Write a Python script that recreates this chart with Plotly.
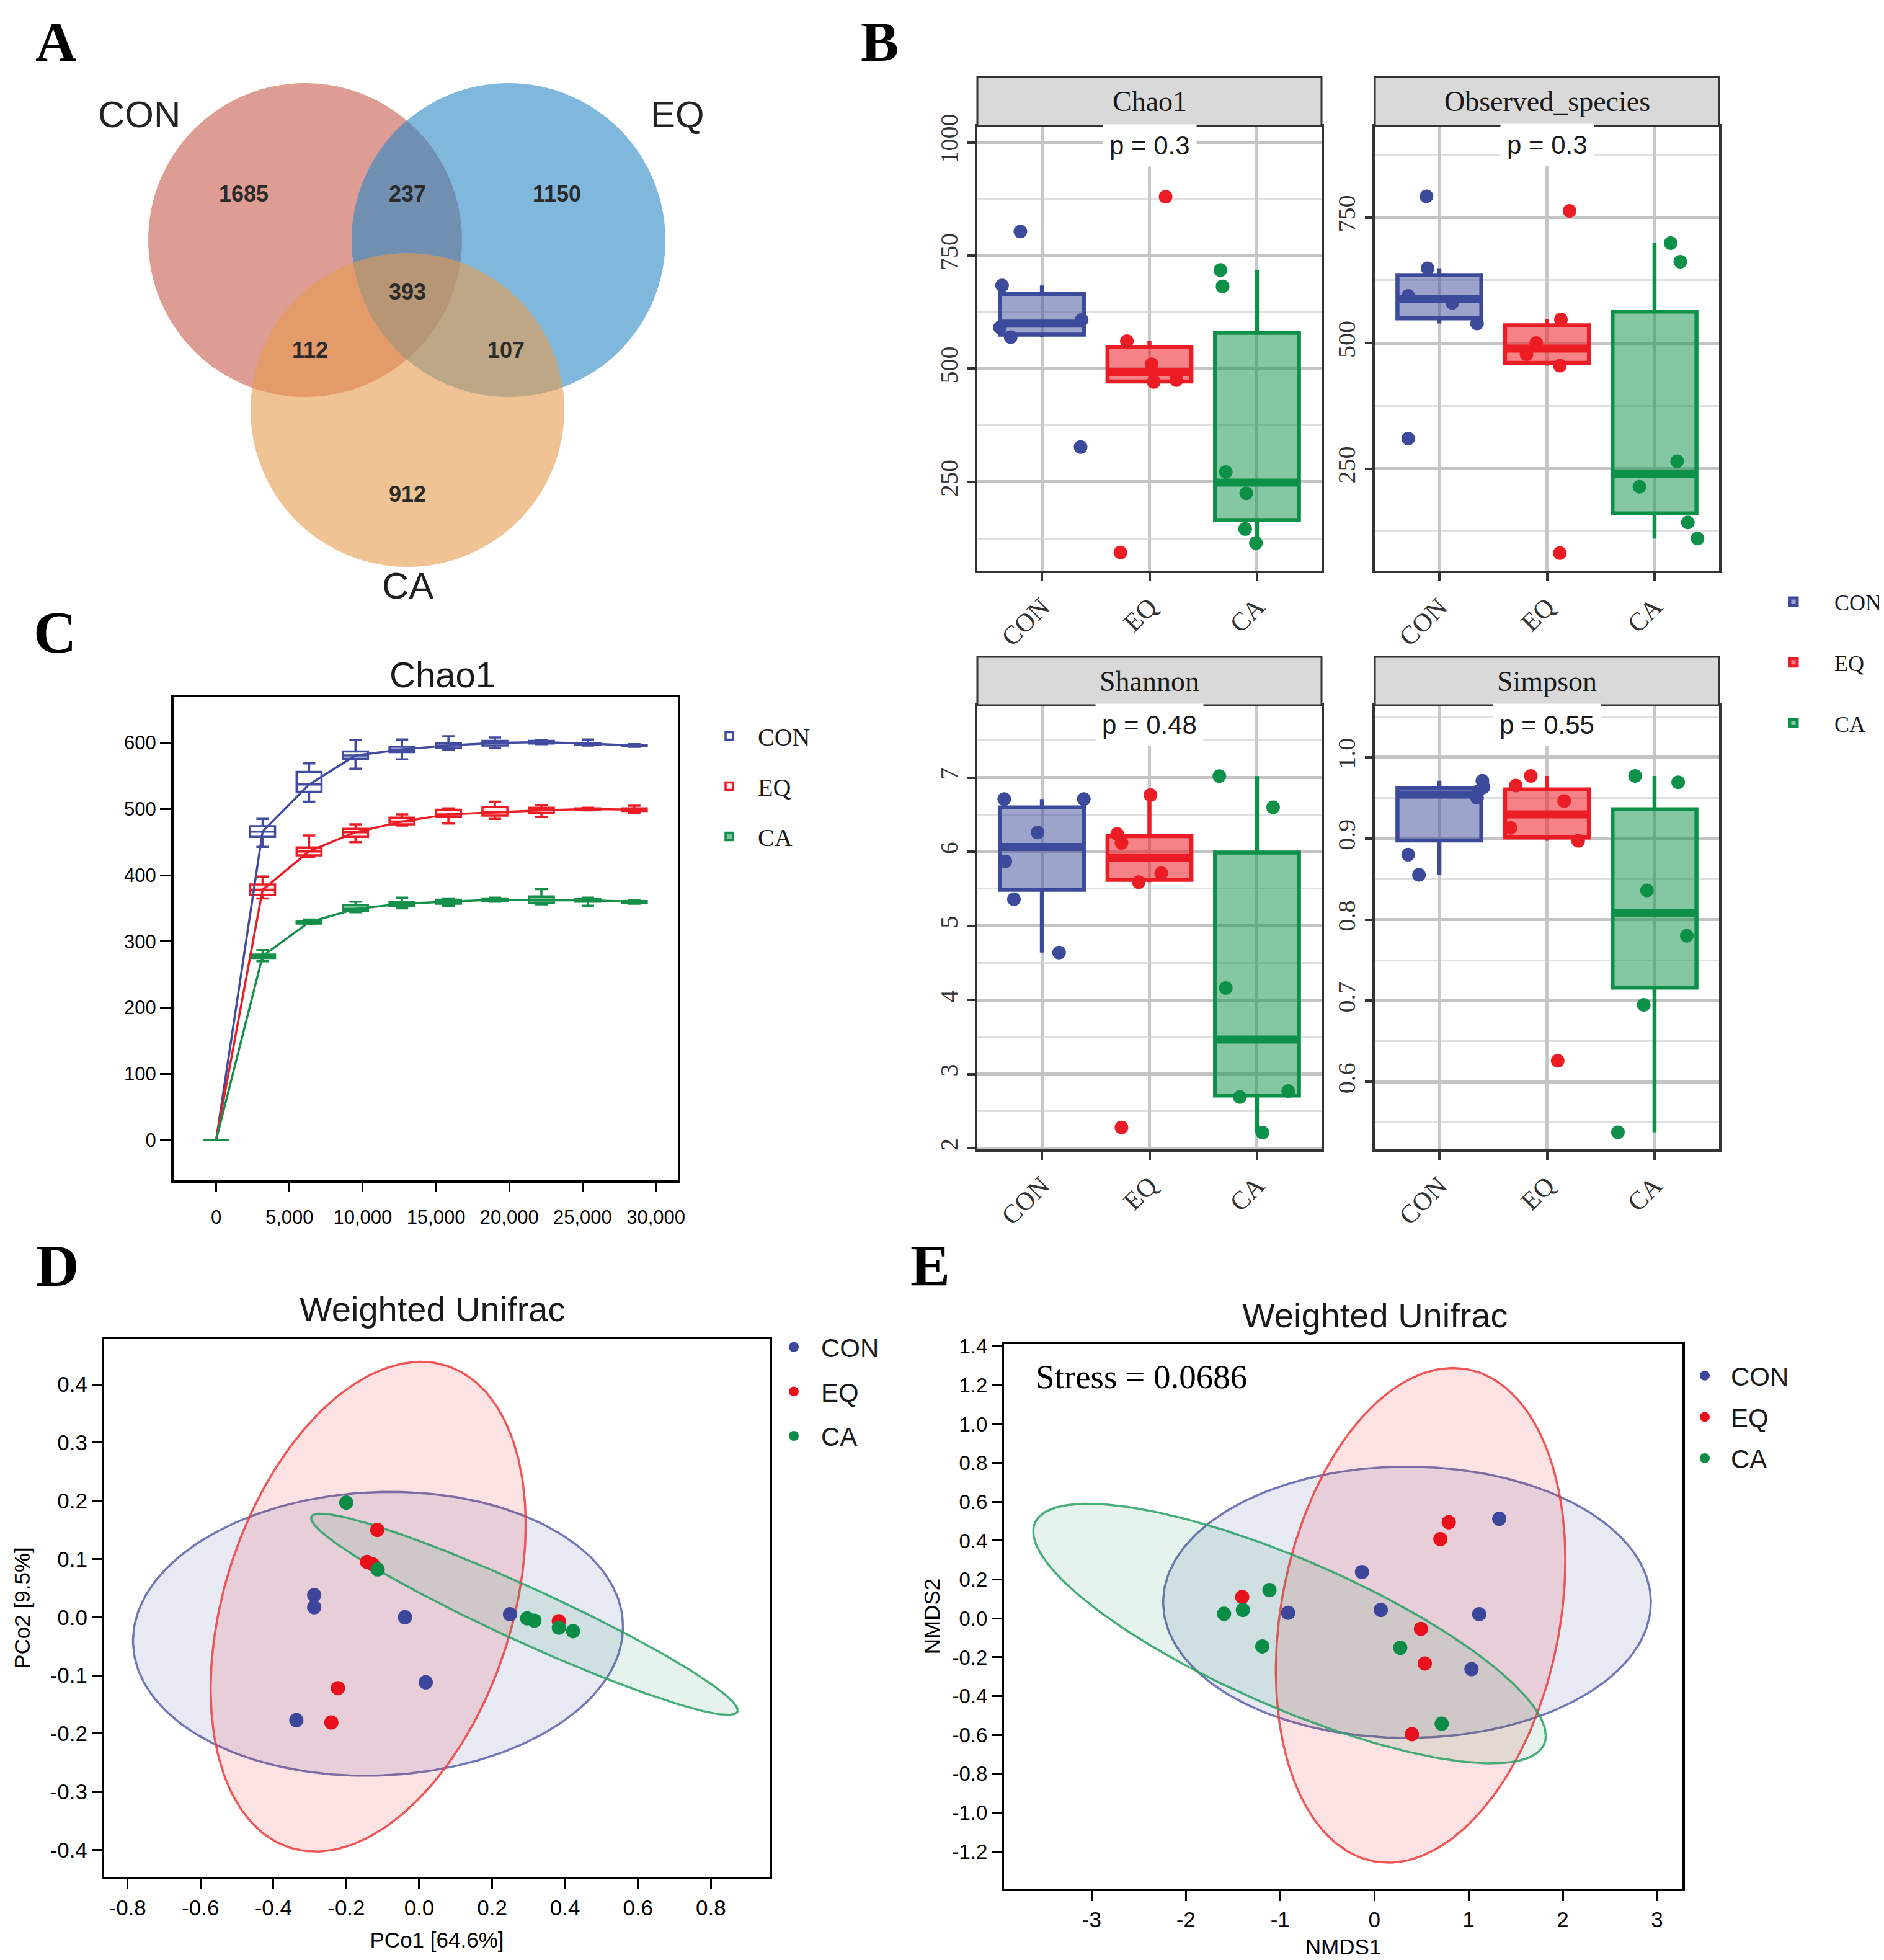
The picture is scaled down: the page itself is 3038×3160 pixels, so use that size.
import numpy as np
import plotly.graph_objects as go

W, H = 3038, 3160
OFF = 8  # the page body offsets the figure by 8 px


def px(x):
    return (x - OFF) / W


def py(y):
    return 1 - (y - OFF) / H


SERIF = "Liberation Serif, Times New Roman, serif"
SANS = "Liberation Sans, Arial, sans-serif"
NARROW = "Liberation Sans Narrow, Liberation Sans, Arial Narrow, sans-serif"

GROUPS = ["CON", "EQ", "CA"]

# ---------------- Panel A: Venn ----------------
VENN_SETS = ["CON", "EQ", "CA"]
VENN_REGIONS = ["CON", "CON&EQ", "EQ", "CON&EQ&CA", "CON&CA", "EQ&CA", "CA"]
VENN_COUNTS = [1685, 237, 1150, 393, 112, 107, 912]

# ---------------- Panel B: alpha diversity ----------------
B_METRICS = ["Chao1", "Observed_species", "Shannon", "Simpson"]
B_PVALUES = ["p = 0.3", "p = 0.3", "p = 0.48", "p = 0.55"]
CHAO1 = [[803, 684, 591, 570, 608, 327],
         [880, 561, 510, 471, 475, 94],
         [718, 682, 272, 225, 146, 115]]
CHAO1_JIT = [[-0.20, -0.37, -0.39, -0.29, 0.37, 0.36],
             [0.15, -0.21, 0.02, 0.04, 0.25, -0.27],
             [-0.34, -0.32, -0.29, -0.10, -0.11, -0.01]]
OBS = [[792, 649, 594, 580, 539, 310],
       [763, 547, 500, 478, 455, 82],
       [699, 662, 265, 214, 143, 111]]
OBS_JIT = [[-0.12, -0.11, -0.29, 0.12, 0.35, -0.29],
           [0.21, 0.13, -0.10, -0.19, 0.12, 0.12],
           [0.15, 0.24, 0.21, -0.14, 0.31, 0.40]]
SHANNON = [[6.71, 6.71, 6.26, 5.87, 5.36, 4.64],
           [6.765, 6.24, 6.12, 5.71, 5.59, 2.28],
           [7.02, 6.60, 4.16, 2.77, 2.69, 2.21]]
SHANNON_JIT = [[-0.35, 0.39, -0.04, -0.34, -0.26, 0.16],
               [0.01, -0.30, -0.26, 0.11, -0.10, -0.26],
               [-0.35, 0.15, -0.29, 0.29, -0.16, 0.05]]
SIMPSON = [[0.971, 0.963, 0.958, 0.950, 0.880, 0.855],
           [0.977, 0.965, 0.946, 0.913, 0.897, 0.626],
           [0.977, 0.969, 0.836, 0.780, 0.695, 0.538]]
SIMPSON_JIT = [[0.40, 0.41, 0.36, 0.35, -0.29, -0.19],
               [-0.15, -0.29, 0.16, -0.34, 0.29, 0.10],
               [-0.18, 0.22, -0.07, 0.30, -0.10, -0.34]]

# ---------------- Panel C: rarefaction (Chao1) ----------------
DEPTHS = [0, 3170, 6340, 9510, 12680, 15850, 19020, 22190, 25360, 28530]
C_MED = [[0, 466, 537, 581, 590, 596, 600, 601, 599, 596],
         [0, 378, 436, 465, 481, 492, 495, 498, 500, 499],
         [0, 278, 329, 349, 357, 360, 363, 362, 362, 360]]
C_Q1 = [[0, 458, 526, 576, 586, 592, 596, 599, 597, 595],
        [0, 370, 430, 458, 477, 488, 490, 494, 499, 497],
        [0, 275, 327, 346, 354, 357, 361, 358, 360, 358]]
C_Q3 = [[0, 474, 556, 587, 594, 600, 603, 603, 600, 597],
        [0, 386, 442, 470, 487, 499, 503, 502, 501, 501],
        [0, 280, 331, 355, 360, 363, 365, 368, 364, 361]]
C_LO = [[0, 443, 511, 561, 575, 590, 592, 598, 596, 594],
        [0, 365, 428, 450, 475, 478, 485, 488, 498, 494],
        [0, 270, 326, 344, 350, 354, 360, 356, 354, 357]]
C_HI = [[0, 485, 569, 604, 605, 610, 608, 604, 605, 598],
        [0, 398, 460, 477, 492, 501, 511, 506, 502, 505],
        [0, 287, 333, 360, 366, 365, 366, 379, 366, 362]]

# ---------------- Panel D: PCoA ----------------
PCO1 = [[-0.288, -0.288, -0.039, 0.249, 0.018, -0.337],
        [-0.115, -0.143, -0.128, 0.383, -0.223, -0.241],
        [-0.200, -0.114, 0.296, 0.316, 0.383, 0.422]]
PCO2 = [[0.038, 0.017, 0.000, 0.005, -0.112, -0.177],
        [0.150, 0.095, 0.091, -0.007, -0.122, -0.181],
        [0.197, 0.082, -0.002, -0.006, -0.018, -0.024]]
D_XTICKVALS = [-0.8, -0.6, -0.4, -0.2, 0.0, 0.2, 0.4, 0.6, 0.8]
D_XTICKTEXT = ["-0.8", "-0.6", "-0.4", "-0.2", "0.0", "0.2", "0.4", "0.6", "0.8"]
D_YTICKVALS = [-0.4, -0.3, -0.2, -0.1, 0.0, 0.1, 0.2, 0.3, 0.4]
D_YTICKTEXT = ["-0.4", "-0.3", "-0.2", "-0.1", "0.0", "0.1", "0.2", "0.3", "0.4"]
# confidence ellipses: centre, half extents, correlation
D_ELL_CX = [-0.113, -0.140, 0.2885]
D_ELL_CY = [-0.0286, 0.018, 0.005]
D_ELL_SX = [0.672, 0.432, 0.585]
D_ELL_SY = [0.244, 0.421, 0.173]
D_ELL_R = [0.05, 0.335, -0.955]

# ---------------- Panel E: NMDS ----------------
NMDS1 = [[1.326, -0.131, -0.914, 0.069, 1.113, 1.031],
         [0.790, 0.701, -1.402, 0.495, 0.536, 0.399],
         [-1.113, -1.395, -1.595, -1.189, 0.275, 0.715]]
NMDS2 = [[0.513, 0.239, 0.029, 0.044, 0.022, -0.261],
         [0.495, 0.408, 0.110, -0.054, -0.232, -0.596],
         [0.146, 0.044, 0.024, -0.144, -0.151, -0.542]]
E_XTICKVALS = [-3, -2, -1, 0, 1, 2, 3]
E_XTICKTEXT = ["-3", "-2", "-1", "0", "1", "2", "3"]
E_YTICKVALS = [-1.2, -1.0, -0.8, -0.6, -0.4, -0.2, 0.0, 0.2, 0.4, 0.6, 0.8, 1.0, 1.2, 1.4]
E_YTICKTEXT = ["-1.2", "-1.0", "-0.8", "-0.6", "-0.4", "-0.2", "0.0",
               "0.2", "0.4", "0.6", "0.8", "1.0", "1.2", "1.4"]
E_ELL_CX = [0.347, 0.491, -0.90]
E_ELL_CY = [0.083, 0.016, -0.078]
E_ELL_SX = [2.588, 1.536, 2.72]
E_ELL_SY = [0.698, 1.273, 0.668]
E_ELL_R = [0.0, 0.224, -0.787]
STRESS = 0.0686

# ---------------- colours ----------------
B_LINE = ["#3b4a9a", "#ec1c24", "#0d9048"]
B_FILL = ["rgba(59,74,154,0.5)", "rgba(236,28,36,0.55)", "rgba(13,144,72,0.5)"]
C_LINE = ["#414ba0", "#ec1c24", "#14904a"]
C_FILL = ["rgba(255,255,255,1)", "rgba(255,235,235,1)", "rgba(20,144,74,0.55)"]
PT = ["#3c479c", "#e8101a", "#0b8d47"]
ELL_LINE = ["rgba(90,98,170,0.85)", "rgba(236,60,60,0.85)", "rgba(40,160,100,0.85)"]
ELL_FILL = ["rgba(60,71,156,0.12)", "rgba(232,16,26,0.12)", "rgba(11,141,71,0.10)"]
VENN_COLORS = ["rgb(198,90,77)", "rgb(42,137,197)", "rgb(230,155,77)"]


def box_stats(v):
    v = np.sort(np.asarray(v, float))
    q1, med, q3 = np.percentile(v, [25, 50, 75])
    iqr = q3 - q1
    lo = v[v >= q1 - 1.5 * iqr].min()
    hi = v[v <= q3 + 1.5 * iqr].max()
    return q1, med, q3, lo, hi


def ellipse(cx, cy, sx, sy, r, n=240):
    t = np.linspace(0, 2 * np.pi, n)
    x = cx + sx * np.cos(t)
    y = cy + sy * (r * np.cos(t) + np.sqrt(1 - r * r) * np.sin(t))
    return x, y


def note(text, x, y, family, size, color="#1a1a1a", **kw):
    d = dict(text=text, xref="paper", yref="paper", x=px(x), y=py(y),
             xanchor="center", yanchor="middle", showarrow=False,
             font=dict(family=family, size=size, color=color))
    d.update(kw)
    return d


fig = go.Figure()
layout = {}
annotations = []
shapes = []

# ====================== Panel B ======================
B_DATA = [CHAO1, OBS, SHANNON, SIMPSON]
B_JIT = [CHAO1_JIT, OBS_JIT, SHANNON_JIT, SIMPSON_JIT]
B_XDOM = [(1576, 2131), (2217, 2772), (1576, 2131), (2217, 2772)]
B_YDOM = [(204, 920), (204, 920), (1137, 1853), (1137, 1853)]
B_STRIP = [(124, 203), (124, 203), (1059, 1137), (1059, 1137)]
B_RANGE = [(54, 1035), (47, 931), (1.984, 7.977), (0.517, 1.064)]
B_DTICK = [250, 250, 1, 0.1]
B_FMT = ["d", "d", "d", ".1f"]
B_PY = [993, 894, 7.71, 1.04]
BOX_W = 0.78

for fi in range(4):
    xa = "x" if fi == 0 else f"x{fi + 1}"
    ya = "y" if fi == 0 else f"y{fi + 1}"
    data, jit = B_DATA[fi], B_JIT[fi]
    for gi, g in enumerate(GROUPS):
        q1, med, q3, lo, hi = box_stats(data[gi])
        fig.add_trace(go.Box(
            x=[gi], q1=[q1], median=[med], q3=[q3], lowerfence=[lo], upperfence=[hi],
            width=BOX_W, orientation="v", whiskerwidth=0, boxpoints=False,
            fillcolor=B_FILL[gi], line=dict(color=B_LINE[gi], width=6.5),
            name=g, legend="legend", legendgroup=g, showlegend=(fi == 0),
            xaxis=xa, yaxis=ya, hoverinfo="skip"))
        # thicker median bar (ggplot "fatten")
        fig.add_trace(go.Scatter(
            x=[gi - BOX_W / 2 + 0.01, gi + BOX_W / 2 - 0.01], y=[med, med], mode="lines",
            line=dict(color=B_LINE[gi], width=13), showlegend=False,
            xaxis=xa, yaxis=ya, hoverinfo="skip"))
        fig.add_trace(go.Scatter(
            x=[gi + j for j in jit[gi]], y=data[gi], mode="markers",
            marker=dict(size=22, color=B_LINE[gi]), showlegend=False,
            xaxis=xa, yaxis=ya, hoverinfo="skip"))
    x0, x1 = B_XDOM[fi]
    y0, y1 = B_YDOM[fi]
    key = "" if fi == 0 else str(fi + 1)
    layout["xaxis" + key] = dict(
        domain=[px(x0), px(x1)], anchor=ya, type="linear", range=[-0.6, 2.6],
        tickvals=[0, 1, 2], ticktext=GROUPS, tickangle=-45, automargin=False,
        showgrid=True, gridcolor="#c8c8c8", gridwidth=5, zeroline=False,
        showline=True, linecolor="#333333", linewidth=4, mirror=True,
        ticks="outside", ticklen=13, tickwidth=4, tickcolor="#333333",
        tickfont=dict(family=SERIF, size=42, color="#333333"))
    layout["yaxis" + key] = dict(
        domain=[py(y1), py(y0)], anchor=xa, range=list(B_RANGE[fi]), automargin=False,
        tick0=0, dtick=B_DTICK[fi], tickformat=B_FMT[fi], tickangle=-90,
        showgrid=True, gridcolor="#c4c4c4", gridwidth=4.5, zeroline=False,
        minor=dict(tick0=0, dtick=B_DTICK[fi] / 2, showgrid=True,
                   gridcolor="#e0e0e0", gridwidth=2.5),
        showline=True, linecolor="#333333", linewidth=4, mirror=True,
        ticks="outside", ticklen=12, tickwidth=4, tickcolor="#333333",
        tickfont=dict(family=SERIF, size=40, color="#333333"))
    s0, s1 = B_STRIP[fi]
    shapes.append(dict(type="rect", xref=xa + " domain", yref="paper",
                       x0=0, x1=1, y0=py(s1), y1=py(s0),
                       fillcolor="#d9d9d9", line=dict(color="#333333", width=3)))
    annotations.append(note(B_METRICS[fi], (x0 + x1) / 2, (s0 + s1) / 2, SERIF, 46))
    annotations.append(dict(text=B_PVALUES[fi], xref=xa, yref=ya, x=1, y=B_PY[fi],
                            xanchor="center", yanchor="middle",
                            showarrow=False, bgcolor="white", borderpad=10,
                            font=dict(family=NARROW, size=42, color="#1a1a1a")))

# ====================== Panel C ======================
for gi, g in enumerate(GROUPS):
    fig.add_trace(go.Scatter(x=DEPTHS, y=C_MED[gi], mode="lines",
                             line=dict(color=C_LINE[gi], width=3.5),
                             showlegend=False, xaxis="x5", yaxis="y5", hoverinfo="skip"))
for gi, g in enumerate(GROUPS):
    fig.add_trace(go.Box(
        x=DEPTHS, q1=C_Q1[gi], median=C_MED[gi], q3=C_Q3[gi],
        lowerfence=C_LO[gi], upperfence=C_HI[gi], orientation="v",
        width=1700, whiskerwidth=0.5, boxpoints=False,
        fillcolor=C_FILL[gi], line=dict(color=C_LINE[gi], width=3.5),
        name=g, legend="legend2", legendgroup="c" + g,
        xaxis="x5", yaxis="y5", hoverinfo="skip"))

frame = dict(showline=True, linecolor="black", linewidth=4, mirror=True,
             ticks="outside", tickwidth=3, tickcolor="black", automargin=False,
             showgrid=False, zeroline=False)
layout["xaxis5"] = dict(domain=[px(280), px(1093)], anchor="y5", range=[-2900, 31500],
                        tick0=0, dtick=5000, tickformat=",d", ticklen=15,
                        ticklabelstandoff=14,
                        tickfont=dict(family=NARROW, size=31, color="black"), **frame)
layout["yaxis5"] = dict(domain=[py(1903), py(1124)], anchor="x5", range=[-61, 669],
                        tick0=0, dtick=100, ticklen=18,
                        tickfont=dict(family=NARROW, size=31, color="black"), **frame)
annotations.append(note("Chao1", 713, 1087, NARROW, 58))

# ====================== Panel D ======================
for gi in range(3):
    ex, ey = ellipse(D_ELL_CX[gi], D_ELL_CY[gi], D_ELL_SX[gi], D_ELL_SY[gi], D_ELL_R[gi])
    fig.add_trace(go.Scatter(x=ex, y=ey, mode="lines", fill="toself",
                             fillcolor=ELL_FILL[gi], line=dict(color=ELL_LINE[gi], width=3.5),
                             showlegend=False, xaxis="x6", yaxis="y6", hoverinfo="skip"))
for gi, g in enumerate(GROUPS):
    fig.add_trace(go.Scatter(x=PCO1[gi], y=PCO2[gi], mode="markers", name=g,
                             marker=dict(size=23, color=PT[gi]),
                             legend="legend3", legendgroup="d" + g,
                             xaxis="x6", yaxis="y6", hoverinfo="skip"))
layout["xaxis6"] = dict(domain=[px(168), px(1241)], anchor="y6", range=[-0.864, 0.961],
                        tickvals=D_XTICKVALS, ticktext=D_XTICKTEXT, ticklen=16,
                        title=dict(text="PCo1 [64.6%]", standoff=22,
                                   font=dict(family=SANS, size=35, color="black")),
                        tickfont=dict(family=SANS, size=35, color="black"), **frame)
layout["yaxis6"] = dict(domain=[py(3026), py(2159)], anchor="x6", range=[-0.4465, 0.478],
                        tickvals=D_YTICKVALS, ticktext=D_YTICKTEXT, ticklen=16,
                        title=dict(text="PCo2 [9.5%]", standoff=22,
                                   font=dict(family=SANS, size=35, color="black")),
                        tickfont=dict(family=SANS, size=35, color="black"), **frame)
annotations.append(note("Weighted Unifrac", 697, 2110, SANS, 56))

# ====================== Panel E ======================
for gi in range(3):
    ex, ey = ellipse(E_ELL_CX[gi], E_ELL_CY[gi], E_ELL_SX[gi], E_ELL_SY[gi], E_ELL_R[gi])
    fig.add_trace(go.Scatter(x=ex, y=ey, mode="lines", fill="toself",
                             fillcolor=ELL_FILL[gi], line=dict(color=ELL_LINE[gi], width=3.5),
                             showlegend=False, xaxis="x7", yaxis="y7", hoverinfo="skip"))
for gi, g in enumerate(GROUPS):
    fig.add_trace(go.Scatter(x=NMDS1[gi], y=NMDS2[gi], mode="markers", name=g,
                             marker=dict(size=23, color=PT[gi]),
                             legend="legend4", legendgroup="e" + g,
                             xaxis="x7", yaxis="y7", hoverinfo="skip"))
layout["xaxis7"] = dict(domain=[px(1619), px(2713)], anchor="y7", range=[-3.93, 3.27],
                        tickvals=E_XTICKVALS, ticktext=E_XTICKTEXT, ticklen=16,
                        title=dict(text="NMDS1", standoff=14,
                                   font=dict(family=SANS, size=35, color="black")),
                        tickfont=dict(family=SANS, size=35, color="black"), **frame)
layout["yaxis7"] = dict(domain=[py(3045), py(2167)], anchor="x7", range=[-1.391, 1.412],
                        tickvals=E_YTICKVALS, ticktext=E_YTICKTEXT, ticklen=16,
                        title=dict(text="NMDS2", standoff=10,
                                   font=dict(family=SANS, size=35, color="black")),
                        tickfont=dict(family=SANS, size=33, color="black"), **frame)
annotations.append(note("Weighted Unifrac", 2217, 2120, SANS, 56))
annotations.append(note(f"Stress = {STRESS}", 1668, 2219, SERIF, 55, color="black",
                        xanchor="left"))

# ====================== Panel A: Venn ======================
VENN_CENTERS = [(492, 387), (820, 387), (657, 661)]
VENN_R = 253
for i, (cx, cy) in enumerate(VENN_CENTERS):
    shapes.append(dict(type="circle", xref="x8", yref="y8", layer="below",
                       x0=cx - VENN_R, x1=cx + VENN_R, y0=cy - VENN_R, y1=cy + VENN_R,
                       fillcolor=VENN_COLORS[i], opacity=0.6, line=dict(width=0)))
VENN_TEXT_POS = [(393, 316), (657, 316), (898, 316), (657, 474), (500, 568), (816, 568), (657, 800)]
fig.add_trace(go.Scatter(x=[p[0] for p in VENN_TEXT_POS], y=[p[1] for p in VENN_TEXT_POS],
                         text=[str(c) for c in VENN_COUNTS], mode="text",
                         textfont=dict(family=SANS, size=36, color="#2b2b2b", weight="bold"),
                         showlegend=False, xaxis="x8", yaxis="y8", hoverinfo="skip"))
layout["xaxis8"] = dict(domain=[px(OFF), px(1400)], anchor="y8", range=[OFF, 1400],
                        visible=False, automargin=False)
layout["yaxis8"] = dict(domain=[py(1000), py(OFF)], anchor="x8", range=[1000, OFF],
                        visible=False, automargin=False)
VENN_LABEL_POS = [(224, 185), (1092, 185), (657, 944)]
for name, (lx, ly) in zip(VENN_SETS, VENN_LABEL_POS):
    annotations.append(note(name, lx, ly, SANS, 60, color="#222222"))

# ====================== panel letters ======================
LETTER_FONT = dict(family=SERIF, size=92, color="black", weight="bold")
annotations.append(note("A", 90, 14, SERIF, 92, font=LETTER_FONT, yanchor="top"))
annotations.append(note("B", 1418, 14, SERIF, 92, font=LETTER_FONT, yanchor="top"))
for letter, (lx, ly) in zip("CDE", [(88, 1020), (92, 2040), (1500, 2040)]):
    annotations.append(note(letter, lx, ly, SERIF, 96,
                            font=dict(family=SERIF, size=96, color="black", weight="bold")))


# ====================== legends ======================
def leg(x, y, family, size, gap, itemwidth):
    return dict(x=px(x), y=py(y), xanchor="left", yanchor="top", bgcolor="rgba(0,0,0,0)",
                font=dict(family=family, size=size, color="#1a1a1a"),
                traceorder="grouped", tracegroupgap=gap, itemsizing="trace",
                itemwidth=itemwidth)


layout["legend"] = leg(2826, 940, SERIF, 36, 48, 122)
layout["legend2"] = leg(1130, 1154, SERIF, 40, 26, 82)
layout["legend3"] = leg(1236, 2138, SANS, 42, 14, 78)
layout["legend4"] = leg(2707, 2184, SANS, 42, 9, 74)

fig.update_layout(
    width=W, height=H, autosize=False,
    margin=dict(l=0, r=0, t=0, b=0, autoexpand=False),
    paper_bgcolor="white", plot_bgcolor="white",
    annotations=annotations, shapes=shapes, **layout)

fig.write_html("out.html")
